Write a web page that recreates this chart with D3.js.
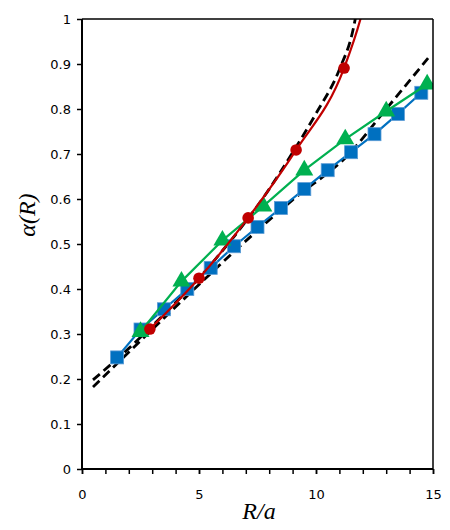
<!DOCTYPE html>
<html><head><meta charset="utf-8">
<script src="https://cdn.jsdelivr.net/npm/d3@7"></script>
<style>body{margin:0;background:#fff}</style>
</head><body>
<svg id="c" width="450" height="530"></svg>
<script>
const xTicks = [0, 5, 10, 15];
const xMinor = [0,1,2,3,4,5,6,7,8,9,10,11,12,13,14,15];
const yTicks = [0,0.1,0.2,0.3,0.4,0.5,0.6,0.7,0.8,0.9,1];

const blueX = [1.5,2.5,3.5,4.5,5.5,6.5,7.5,8.5,9.5,10.5,11.5,12.5,13.5,14.5,15.5];
const blueY = [0.248,0.31,0.355,0.40,0.447,0.495,0.538,0.58,0.622,0.664,0.704,0.744,0.789,0.836,0.876];

const greenX = [2.5,4.25,6.0,7.75,9.5,11.25,13.0,14.75];
const greenY = [0.305,0.417,0.508,0.584,0.664,0.733,0.795,0.855];

const redX = [2.9,5.0,7.1,9.15,11.2];
const redY = [0.311,0.424,0.558,0.709,0.891];
const redCurveX = [2.9,5.0,7.1,9.15,11.2,11.9,12.1];
const redCurveY = [0.311,0.424,0.558,0.709,0.891,1.0,1.04];

const dashAX = [0.47,2.5,4.5,6.75,9.0,11.45,12.86,14.79];
const dashAY = [0.182,0.285,0.385,0.495,0.598,0.702,0.791,0.913];

const dashBX = [0.47,2,3,4,5,6,7,8,9,10,11,11.6,11.75];
const dashBY = [0.198,0.268,0.318,0.37,0.424,0.485,0.55,0.622,0.703,0.79,0.888,0.98,1.02];

const svg = d3.select("#c");
const L=82, R=433, T=19, B=469;
const x = d3.scaleLinear().domain([0,15]).range([L,R]);
const y = d3.scaleLinear().domain([0,1]).range([B,T]);

svg.append("defs").append("clipPath").attr("id","clip")
  .append("rect").attr("x",L).attr("y",T).attr("width",R-L).attr("height",B-T);

const g = svg.append("g").attr("clip-path","url(#clip)");
const zip = (a,b)=>a.map((v,i)=>[v,b[i]]);

const lineLin = d3.line().x(d=>x(d[0])).y(d=>y(d[1]));
const lineSm = d3.line().x(d=>x(d[0])).y(d=>y(d[1])).curve(d3.curveMonotoneX);

// dashed
g.append("path").attr("d", lineSm(zip(dashAX,dashAY))).attr("fill","none")
  .attr("stroke","#000").attr("stroke-width",2.8).attr("stroke-dasharray","9,5");
g.append("path").attr("d", lineSm(zip(dashBX,dashBY))).attr("fill","none")
  .attr("stroke","#000").attr("stroke-width",2.8).attr("stroke-dasharray","9,5");

// blue
g.append("path").attr("d", lineLin(zip(blueX,blueY))).attr("fill","none")
  .attr("stroke","#0070C0").attr("stroke-width",2.2);
g.selectAll(".sq").data(zip(blueX,blueY)).enter().append("rect")
  .attr("x",d=>x(d[0])-6.5).attr("y",d=>y(d[1])-6.5).attr("width",13).attr("height",13)
  .attr("fill","#0070C0").attr("stroke","#5B9BD5").attr("stroke-width",0.8);

// green
g.append("path").attr("d", lineLin(zip(greenX,greenY))).attr("fill","none")
  .attr("stroke","#00B050").attr("stroke-width",2.2);
const tri = d3.symbol().type(d3.symbolTriangle).size(140);
g.selectAll(".tr").data(zip(greenX,greenY)).enter().append("path")
  .attr("d",tri).attr("transform",d=>`translate(${x(d[0])},${y(d[1])})`)
  .attr("fill","#00B050");

// red
g.append("path").attr("d", lineSm(zip(redCurveX,redCurveY))).attr("fill","none")
  .attr("stroke","#C00000").attr("stroke-width",2.2);
g.selectAll(".ci").data(zip(redX,redY)).enter().append("circle")
  .attr("cx",d=>x(d[0])).attr("cy",d=>y(d[1])).attr("r",5.8).attr("fill","#C00000");

// frame
svg.append("line").attr("x1",L).attr("x2",R).attr("y1",T).attr("y2",T).attr("stroke","#000").attr("stroke-width",1.5);
svg.append("line").attr("x1",R).attr("x2",R).attr("y1",T).attr("y2",B).attr("stroke","#000").attr("stroke-width",1.5);

// axes
const font = "'DejaVu Sans', sans-serif";
const yAxis = svg.append("g").attr("transform",`translate(${L},0)`)
  .call(d3.axisLeft(y).tickValues(yTicks).tickSize(5).tickPadding(6).tickFormat(d=>d3.format("")(+d.toFixed(1))));
const xAxisMinor = svg.append("g").attr("transform",`translate(0,${B})`)
  .call(d3.axisBottom(x).tickValues(xMinor).tickSize(5).tickFormat(""));
const xAxis = svg.append("g").attr("transform",`translate(0,${B})`)
  .call(d3.axisBottom(x).tickValues(xTicks).tickSize(5).tickPadding(16).tickFormat(d3.format("d")));
[yAxis,xAxis,xAxisMinor].forEach(a=>{
  a.select(".domain").attr("stroke","#000").attr("stroke-width",2);
  a.selectAll(".tick line").attr("stroke","#000").attr("stroke-width",1.5);
  a.selectAll("text").attr("font-family",font).attr("font-size",13).attr("fill","#000");
});
yAxis.select(".domain").attr("d",`M0,${B}V${T}`);
xAxis.select(".domain").attr("d",`M${L},0H${R}`);
xAxisMinor.select(".domain").attr("d",`M${L},0H${R}`);

// titles
svg.append("text").attr("x",259).attr("y",519).attr("text-anchor","middle")
  .attr("font-family","'Liberation Serif', 'Times New Roman', serif").attr("font-style","italic")
  .attr("font-size",24).text("R/a");
svg.append("text").attr("transform","translate(35,215) rotate(-90)").attr("text-anchor","middle")
  .attr("font-family","'Liberation Serif', 'Times New Roman', serif").attr("font-style","italic")
  .attr("font-size",24).text("α(R)");
</script>
</body></html>
